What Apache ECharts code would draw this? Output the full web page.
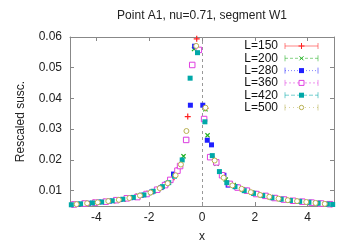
<!DOCTYPE html>
<html><head><meta charset="utf-8">
<script src="https://cdn.jsdelivr.net/npm/echarts@6/dist/echarts.min.js"></script>
<style>html,body{margin:0;padding:0;background:#fff}#c{width:354px;height:248px}</style>
</head><body><div id="c"></div>
<script>
const titleText = 'Point A1, nu=0.71, segment W1';
const xTicks = [-4, -2, 0, 2, 4];
const yTicks = [0.01, 0.02, 0.03, 0.04, 0.05, 0.06];
const seriesNames = ['L=150', 'L=200', 'L=280', 'L=360', 'L=420', 'L=500'];

const dL150 = [[-4.9,0.0055],[-4.5,0.0058],[-4.1,0.0061],[-3.7,0.0064],[-3.3,0.0068],[-2.9,0.0074],[-2.5,0.0081],[-2.1,0.0090],[-1.75,0.0101],[-1.45,0.0116],[-1.15,0.0136],[-0.85,0.0175],[-0.54,0.0341],[-0.20,0.0594],
  [0.13,0.0368],[0.45,0.0202],[0.78,0.0150],[1.12,0.0120],[1.45,0.0107],[1.8,0.0097],[2.15,0.0088],[2.5,0.0081],[2.85,0.0075],[3.2,0.0070],[3.55,0.0066],[3.9,0.0063],[4.25,0.0060],[4.6,0.0057],[4.9,0.0056]];
const dL200 = [[-4.8,0.0056],[-4.4,0.0059],[-4.0,0.0062],[-3.6,0.0065],[-3.2,0.0069],[-2.8,0.0075],[-2.4,0.0083],[-2.0,0.0092],[-1.65,0.0105],[-1.3,0.0125],[-1.0,0.0152],[-0.7,0.0212],[-0.30,0.0561],
  [0.13,0.0365],[0.21,0.0280],[0.55,0.0188],[0.9,0.0136],[1.2,0.0118],[1.55,0.0104],[1.9,0.0094],[2.25,0.0085],[2.6,0.0079],[2.95,0.0073],[3.3,0.0069],[3.65,0.0065],[4.0,0.0062],[4.35,0.0059],[4.7,0.0057]];
const dL280 = [[-4.7,0.0056],[-4.3,0.0059],[-3.9,0.0063],[-3.5,0.0066],[-3.1,0.0071],[-2.7,0.0077],[-2.3,0.0085],[-1.9,0.0096],[-1.55,0.0110],[-1.35,0.0122],[-1.08,0.0154],[-0.93,0.0165],[-0.60,0.0265],[-0.44,0.0378],[-0.28,0.0570],[-0.12,0.0556],
  [0.03,0.0378],[0.20,0.0264],[0.36,0.0249],[0.54,0.0192],[0.83,0.0150],[0.99,0.0118],[1.3,0.0112],[1.65,0.0101],[2.0,0.0091],[2.35,0.0084],[2.7,0.0077],[3.05,0.0072],[3.4,0.0068],[3.75,0.0065],[4.1,0.0062],[4.45,0.0059],[4.8,0.0057]];
const dL360 = [[-4.85,0.0055],[-4.45,0.0058],[-4.05,0.0061],[-3.65,0.0064],[-3.25,0.0069],[-2.85,0.0075],[-2.45,0.0079],[-2.1,0.0089],[-1.7,0.0103],[-1.4,0.0118],[-1.2,0.0135],[-0.93,0.0165],[-0.83,0.0180],[-0.60,0.0265],[-0.37,0.0509],[-0.12,0.0558],
  [0.08,0.0333],[0.31,0.0209],[0.54,0.0192],[0.76,0.0150],[1.05,0.0122],[1.35,0.0110],[1.7,0.0100],[2.05,0.0089],[2.4,0.0083],[2.75,0.0076],[3.1,0.0071],[3.45,0.0067],[3.8,0.0064],[4.15,0.0061],[4.5,0.0058],[4.85,0.0056]];
const dL420 = [[-4.95,0.0054],[-4.6,0.0057],[-4.15,0.0060],[-3.8,0.0063],[-3.4,0.0067],[-3.0,0.0072],[-2.6,0.0078],[-2.2,0.0086],[-1.85,0.0098],[-1.5,0.0113],[-1.26,0.0126],[-1.04,0.0147],[-0.75,0.0200],[-0.45,0.0466],[-0.17,0.0549],
  [0.11,0.0324],[0.39,0.0214],[0.66,0.0162],[0.94,0.0126],[1.25,0.0113],[1.6,0.0100],[1.95,0.0091],[2.3,0.0084],[2.65,0.0077],[3.0,0.0072],[3.35,0.0068],[3.7,0.0065],[4.05,0.0062],[4.4,0.0059],[4.75,0.0056],[4.95,0.0055]];
const dL500 = [[-4.75,0.0056],[-4.35,0.0059],[-3.95,0.0062],[-3.55,0.0066],[-3.15,0.0070],[-2.75,0.0076],[-2.35,0.0084],[-1.95,0.0094],[-1.6,0.0108],[-1.3,0.0124],[-1.0,0.0150],[-0.8,0.0185],[-0.59,0.0294],[-0.22,0.0571],
  [0.13,0.0370],[0.48,0.0198],[0.82,0.0142],[1.15,0.0117],[1.5,0.0106],[1.85,0.0095],[2.2,0.0086],[2.55,0.0080],[2.9,0.0074],[3.25,0.0069],[3.6,0.0066],[3.95,0.0063],[4.3,0.0060],[4.65,0.0057]];

const allData = [dL150, dL200, dL280, dL360, dL420, dL500];
const colors = ['#ff2020', '#20b020', '#2020ff', '#e040e0', '#00a8a8', '#b8b050'];
const plusPath = 'path://M4,0H6V4H10V6H6V10H4V6H0V4H4Z';
const symbols = [plusPath, plusPath, 'rect', 'rect', 'rect', 'circle'];
const symRot = [0, 45, 0, 0, 0, 0];
const symSize = [6, 6, 5, 5.5, 5, 5];
const hollow = [false, false, false, true, false, true];
const dashes = ['solid', [3, 2], [1, 2], [2, 2], [4, 2], [1, 3]];

const FONT = 'Liberation Sans, Arial, sans-serif';
const GL = 70, GR = 334, GT = 37, GB = 210;

const series = allData.map((d, i) => ({
  name: seriesNames[i], type: 'scatter', data: d,
  symbol: symbols[i], symbolSize: symSize[i], symbolRotate: symRot[i],
  itemStyle: hollow[i] ? { color: '#fff', borderColor: colors[i], borderWidth: 1, opacity: 1 }
                       : { color: colors[i], opacity: 1 },
  z: 3 + i,
  emphasis: { disabled: true }
}));
series[0].markLine = {
  silent: true, symbol: 'none', label: { show: false },
  lineStyle: { color: '#999', type: [3, 3], width: 1 },
  data: [{ xAxis: 0 }]
};

const graphic = [{
  type: 'text', x: (GL + GR) / 2, y: 10,
  style: { text: titleText, font: '12px ' + FONT, fill: '#222', textAlign: 'center' }
}];
const ly0 = 46, ldy = 12.3, lx1 = 285, lx2 = 318, lxm = 301.5;
seriesNames.forEach((n, i) => {
  const y = ly0 + ldy * i;
  graphic.push({ type: 'text', x: 278, y: y, style: { text: n, font: '12px ' + FONT, fill: '#111', textAlign: 'right', textVerticalAlign: 'middle' } });
  graphic.push({ type: 'line', shape: { x1: lx1, y1: y, x2: lx2, y2: y }, style: { stroke: colors[i], lineWidth: 1, lineDash: dashes[i] === 'solid' ? null : dashes[i], opacity: 0.55 } });
  graphic.push({ type: 'line', shape: { x1: lx1, y1: y - 3, x2: lx1, y2: y + 3 }, style: { stroke: colors[i], lineWidth: 1, opacity: 0.55 } });
  graphic.push({ type: 'line', shape: { x1: lx2, y1: y - 3, x2: lx2, y2: y + 3 }, style: { stroke: colors[i], lineWidth: 1, opacity: 0.55 } });
  if (i === 0) {
    graphic.push({ type: 'line', shape: { x1: lxm - 3, y1: y, x2: lxm + 3, y2: y }, style: { stroke: colors[i], lineWidth: 1 } });
    graphic.push({ type: 'line', shape: { x1: lxm, y1: y - 3, x2: lxm, y2: y + 3 }, style: { stroke: colors[i], lineWidth: 1 } });
  } else if (i === 1) {
    graphic.push({ type: 'line', shape: { x1: lxm - 2, y1: y - 2, x2: lxm + 2, y2: y + 2 }, style: { stroke: colors[i], lineWidth: 1 } });
    graphic.push({ type: 'line', shape: { x1: lxm - 2, y1: y + 2, x2: lxm + 2, y2: y - 2 }, style: { stroke: colors[i], lineWidth: 1 } });
  } else if (i === 5) {
    graphic.push({ type: 'circle', shape: { cx: lxm, cy: y, r: 2.2 }, style: { fill: '#fff', stroke: colors[i], lineWidth: 1 } });
  } else if (i === 3) {
    graphic.push({ type: 'rect', shape: { x: lxm - 2.5, y: y - 2.5, width: 5, height: 5 }, style: { fill: '#fff', stroke: colors[i], lineWidth: 1 } });
  } else {
    graphic.push({ type: 'rect', shape: { x: lxm - 2.5, y: y - 2.5, width: 5, height: 5 }, style: { fill: colors[i] } });
  }
});

const axisLineStyle = { lineStyle: { color: '#888', width: 1 } };
const tickStyle = { inside: true, length: 4, lineStyle: { color: '#888' } };
const labelStyle = { color: '#222', fontFamily: FONT, fontSize: 12 };

const option = {
  animation: false,
  grid: { left: GL, right: 354 - GR, top: GT, bottom: 248 - GB, containLabel: false },
  xAxis: [
    { type: 'value', min: -5, max: 5, position: 'bottom', axisLine: { onZero: false, ...axisLineStyle },
      axisTick: { ...tickStyle, customValues: xTicks }, splitLine: { show: false },
      axisLabel: { ...labelStyle, margin: 6, customValues: xTicks, formatter: v => String(v) },
      name: 'x', nameLocation: 'middle', nameGap: 25, nameTextStyle: { ...labelStyle } },
    { type: 'value', min: -5, max: 5, position: 'top', axisLine: { onZero: false, ...axisLineStyle },
      axisTick: { ...tickStyle, customValues: xTicks }, splitLine: { show: false }, axisLabel: { show: false } }
  ],
  yAxis: [
    { type: 'value', min: 0.005, max: 0.06, position: 'left', axisLine: { show: true, onZero: false, ...axisLineStyle },
      axisTick: { show: true, ...tickStyle, customValues: yTicks }, splitLine: { show: false },
      axisLabel: { ...labelStyle, margin: 8, customValues: yTicks, formatter: v => v.toFixed(2) },
      name: 'Rescaled susc.', nameLocation: 'middle', nameGap: 43, nameRotate: 90, nameTextStyle: { ...labelStyle } },
    { type: 'value', min: 0.005, max: 0.06, position: 'right', axisLine: { show: true, onZero: false, ...axisLineStyle },
      axisTick: { show: true, ...tickStyle, customValues: yTicks }, splitLine: { show: false }, axisLabel: { show: false } }
  ],
  series: series,
  graphic: graphic
};
const chart = echarts.init(document.getElementById('c'), null, { renderer: 'canvas' });
chart.setOption(option);
</script></body></html>
